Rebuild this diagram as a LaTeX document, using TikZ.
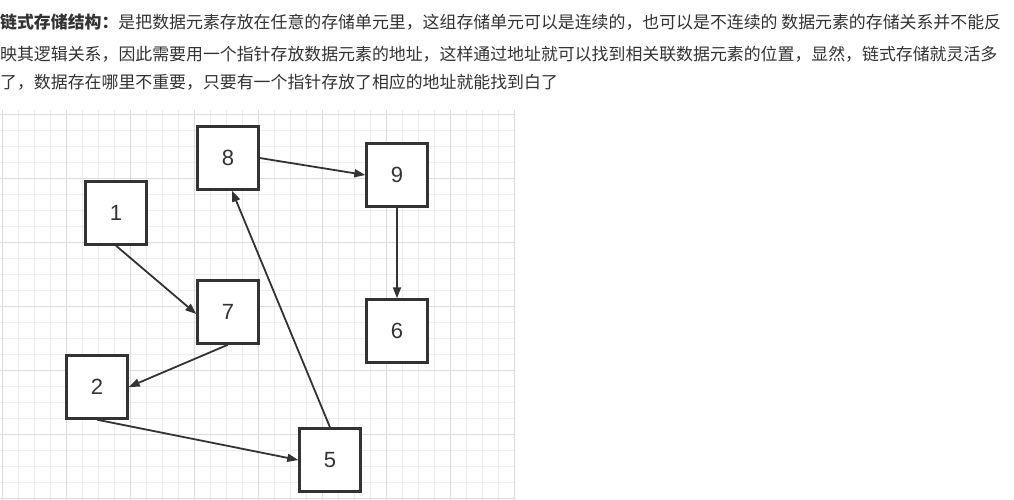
\documentclass[tikz,border=0pt]{standalone}
\usepackage{fontspec}
\setmainfont{Liberation Sans}
\newfontfamily\cjk{Noto Sans CJK SC}
\usetikzlibrary{arrows.meta}
\definecolor{ink}{HTML}{333333}
\definecolor{gridminor}{HTML}{EDEDED}
\definecolor{gridmajor}{HTML}{DCDCDC}
\begin{document}
\begin{tikzpicture}[x=1pt,y=-1pt,
  box/.style={draw=ink,line width=2.4pt,fill=white,minimum width=61pt,minimum height=63pt,inner sep=0pt,font=\fontsize{22}{22}\selectfont,text=ink},
  arr/.style={draw=ink,line width=1.8pt,-{Triangle[length=11pt,width=8pt]}},
  txt/.style={anchor=west,inner sep=0pt,text=ink,font=\cjk\fontsize{16.9}{16.9}\selectfont}]
\useasboundingbox (0,0) rectangle (1014,500);
\fill[white] (0,0) rectangle (1014,500);
% grid
\foreach \x in {2,18,...,514} \draw[gridminor,line width=0.8pt] (\x,110) -- (\x,500);
\foreach \y in {114,130,...,500} \draw[gridminor,line width=0.8pt] (0,\y) -- (515,\y);
\foreach \x in {2,66,...,514} \draw[gridmajor,line width=0.8pt] (\x,110) -- (\x,500);
\foreach \y in {114,178,...,500} \draw[gridmajor,line width=0.8pt] (0,\y) -- (515,\y);
% text
\node[txt] (t1) at (0,22) {\textbf{链式存储结构：}是把数据元素存放在任意的存储单元里，这组存储单元可以是连续的，也可以是不连续的 数据元素的存储关系并不能反};
\node[txt] (t2) at (0,54) {映其逻辑关系，因此需要用一个指针存放数据元素的地址，这样通过地址就可以找到相关联数据元素的位置，显然，链式存储就灵活多};
\node[txt] (t3) at (0,82) {了，数据存在哪里不重要，只要有一个指针存放了相应的地址就能找到白了};
% boxes
\node[box] (n8) at (228,158) {8};
\node[box] (n1) at (116,213) {1};
\node[box] (n9) at (397,175) {9};
\node[box] (n7) at (228,312) {7};
\node[box] (n6) at (397,331) {6};
\node[box] (n2) at (97,387) {2};
\node[box] (n5) at (330,460) {5};
% arrows
\draw[arr] (n8.east) -- (n9.west);
\draw[arr] (n9.south) -- (n6.north);
\draw[arr] (n1.south) -- ([yshift=-2pt]n7.west);
\draw[arr] (n7.south) -- (n2.east);
\draw[arr] (n2.south) -- (n5.west);
\draw[arr] (n5.north) -- ([xshift=4pt]n8.south);
\end{tikzpicture}
\end{document}
